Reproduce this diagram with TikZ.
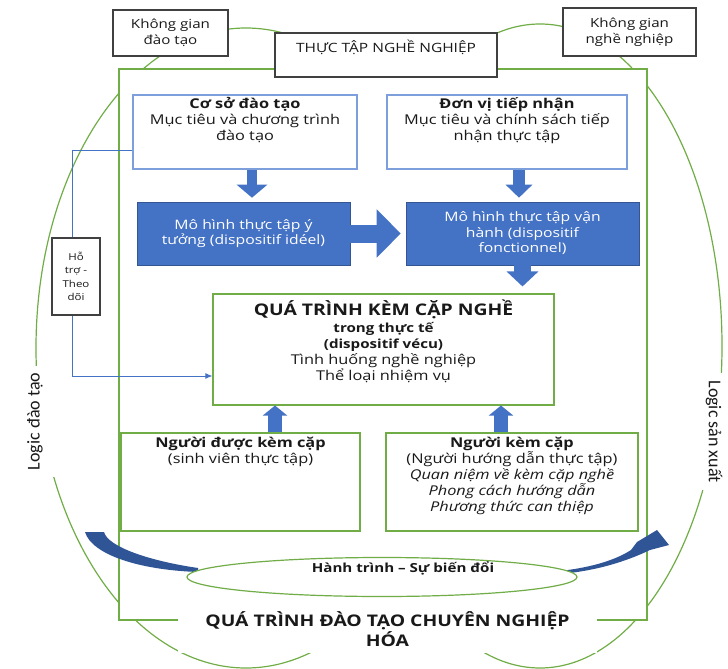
\documentclass[tikz,border=0pt]{standalone}
\usepackage{fontspec}
\setmainfont{Open Sans}[FakeStretch=1.21]
\newfontfamily\logicfont{Carlito}
\usetikzlibrary{arrows.meta, positioning, shapes.geometric}

\definecolor{ofblue}{RGB}{68,114,196}
\definecolor{lineblue}{RGB}{125,160,220}
\definecolor{leafgreen}{RGB}{112,173,71}
\definecolor{deepblue}{RGB}{47,85,151}
\definecolor{inkgray}{RGB}{25,25,25}

\begin{document}
\begin{tikzpicture}[
    x=1pt, y=-1pt, % pixel grid, y runs down
    >=Latex,
    text=inkgray,
    frameline/.style={draw=leafgreen, line width=1.3pt},
    spacebox/.style={draw=black!75, line width=1.4pt, fill=white, inner sep=0pt, align=center, font=\fontsize{12.5}{16}\selectfont},
    goalbox/.style={draw=lineblue, line width=1.1pt, fill=white, inner sep=0pt},
    modelbox/.style={fill=ofblue, draw=ofblue!75!black, line width=0.6pt, inner sep=0pt, align=center, text=white, font=\fontsize{13}{15.5}\selectfont},
    actorbox/.style={frameline, line width=1.1pt, fill=white, inner sep=0pt},
    boxtext/.style={inner sep=0pt, align=center, font=\fontsize{13.5}{16}\selectfont},
    logicbox/.style={fill=white, inner sep=0pt, font=\logicfont\fontsize{18}{20}\selectfont},
    blockarrow/.style n args={3}{draw=ofblue, line width=#1, -{Triangle[width=#2, length=#3]}}
]
    \useasboundingbox (0,0) rectangle (728,669);

    % --- the two logics ---
    \draw[frameline, line width=1.2pt] (246,348) ellipse [x radius=210, y radius=320];
    \draw[frameline, line width=1.2pt] (540,346) ellipse [x radius=182, y radius=322];

    \node[frameline, fill=white, minimum width=528pt, minimum height=551pt, inner sep=0pt] (frame) at (383,344.5) {};

    % --- spaces ---
    \node[spacebox, minimum width=115pt, minimum height=46pt] (trainSpace) at (170.5,33) {Không gian\\đào tạo};
    \node[spacebox, minimum width=133pt, minimum height=48pt] (jobSpace) at (629.5,32) {Không gian\\nghề nghiệp};
    \node[spacebox, minimum width=222pt, minimum height=44pt] (practice) at (386,55) {};
    \node[below=7pt of practice.north, inner sep=0pt, font=\fontsize{12.8}{15}\selectfont] (practiceT) {THỰC TẬP NGHỀ NGHIỆP};

    \node[logicbox, rotate=90, minimum width=111pt, minimum height=40pt] (logicTrain) at (35,421.5) {Logic đào tạo};
    \node[logicbox, rotate=-90, minimum width=117pt, minimum height=26pt] (logicProd) at (714,431.5) {Logic sản xuất};

    % --- journey ---
    \fill[deepblue] (85,532) -- (104,532) .. controls (108,547) and (150,561) .. (198,568) -- (198,572) .. controls (140,570) and (92,555) .. (85,532) -- cycle;
    \fill[deepblue] (560,571) .. controls (595,567) and (617,559) .. (631,550) -- (637,542) -- (657,530) -- (669,545) -- (650,550) .. controls (625,562) and (595,571) .. (560,574) -- cycle;
    \node[ellipse, frameline, line width=1.2pt, fill=white, minimum width=390pt, minimum height=39pt, inner sep=0pt] (journey) at (382,577) {};
    \node[inner sep=0pt, font=\bfseries\fontsize{12.5}{15}\selectfont] (journeyT) at (403,568) {Hành trình – Sự biến đổi};

    \node[fill=white, inner sep=0pt, minimum width=419pt, minimum height=48pt, align=center, font=\bfseries\fontsize{16}{20}\selectfont] (profLabel) at (387.5,629) {QUÁ TRÌNH ĐÀO TẠO CHUYÊN NGHIỆP\\HÓA};

    % --- goals ---
    \node[goalbox, minimum width=224pt, minimum height=74pt] (school) at (245,132) {};
    \node[boxtext, below=3pt of school.north] (schoolT) {\textbf{Cơ sở đào tạo}\\Mục tiêu và chương trình\\đào tạo};
    \node[goalbox, minimum width=240pt, minimum height=74pt] (host) at (507,132) {};
    \node[boxtext, below=3pt of host.north] (hostT) {\textbf{Đơn vị tiếp nhận}\\Mục tiêu và chính sách tiếp\\nhận thực tập};

    % --- models ---
    \node[modelbox, minimum width=213pt, minimum height=63pt] (ideal) at (243.5,233.5) {Mô hình thực tập ý\\tưởng (dispositif idéel)};
    \node[modelbox, minimum width=233pt, minimum height=63pt] (working) at (522.5,233.5) {Mô hình thực tập vận\\hành (dispositif\\fonctionnel)};

    % --- mentoring ---
    \node[actorbox, minimum width=341pt, minimum height=111pt] (mentoring) at (383.5,349.5) {};
    \node[boxtext, below=6pt of mentoring.north] (mentoringT) {{\bfseries\fontsize{16}{19}\selectfont QUÁ TRÌNH KÈM CẶP NGHỀ}\\[1pt]
        {\bfseries\fontsize{12.5}{16}\selectfont trong thực tế}\\
        {\bfseries\fontsize{12.5}{16}\selectfont (dispositif vécu)}\\
        Tình huống nghề nghiệp\\
        Thể loại nhiệm vụ};

    \node[actorbox, minimum width=239pt, minimum height=98pt] (mentee) at (240.5,482) {};
    \node[boxtext, below=4pt of mentee.north] (menteeT) {\textbf{Người được kèm cặp}\\(sinh viên thực tập)};
    \node[actorbox, minimum width=252pt, minimum height=98pt] (mentor) at (512,482) {};
    \node[boxtext, below=4pt of mentor.north] (mentorT) {\textbf{Người kèm cặp}\\(Người hướng dẫn thực tập)\\\textit{Quan niệm về kèm cặp nghề}\\\textit{Phong cách hướng dẫn}\\\textit{Phương thức can thiệp}};

    % --- block arrows ---
    \draw[blockarrow={10pt}{30pt}{13pt}] ([xshift=7pt]school.south) -- ([xshift=8.5pt, yshift=4pt]ideal.north);
    \draw[blockarrow={12pt}{26pt}{13pt}] ([xshift=12pt]host.south) -- ([xshift=-3.5pt, yshift=4pt]working.north);
    \draw[blockarrow={18pt}{47pt}{24pt}] (ideal.east) -- ([xshift=-5pt]working.west);
    \coordinate (workDrop) at (working.south |- mentoring.north);
    \draw[blockarrow={17pt}{31pt}{15pt}] (working.south) -- ([yshift=7pt]workDrop);
    \coordinate (menteeUp) at ([xshift=34.5pt]mentee.north);
    \draw[blockarrow={14pt}{24pt}{10pt}] (menteeUp) -- (menteeUp |- mentoring.south);
    \coordinate (mentorUp) at ([xshift=-11pt]mentor.north);
    \draw[blockarrow={14pt}{24pt}{10pt}] (mentorUp) -- (mentorUp |- mentoring.south);

    % support loop
    \draw[ofblue, line width=1pt, -{Latex[length=7pt, width=6pt]}] ([yshift=-18pt]school.west) -- ++(-60,0) |- ([yshift=-26.5pt]mentoring.west);
    \node[spacebox, minimum width=48pt, minimum height=77pt, font=\fontsize{9.5}{13.5}\selectfont] (support) at (76,276.5) {Hỗ\\trợ -\\Theo\\dõi};

\end{tikzpicture}
\end{document}
